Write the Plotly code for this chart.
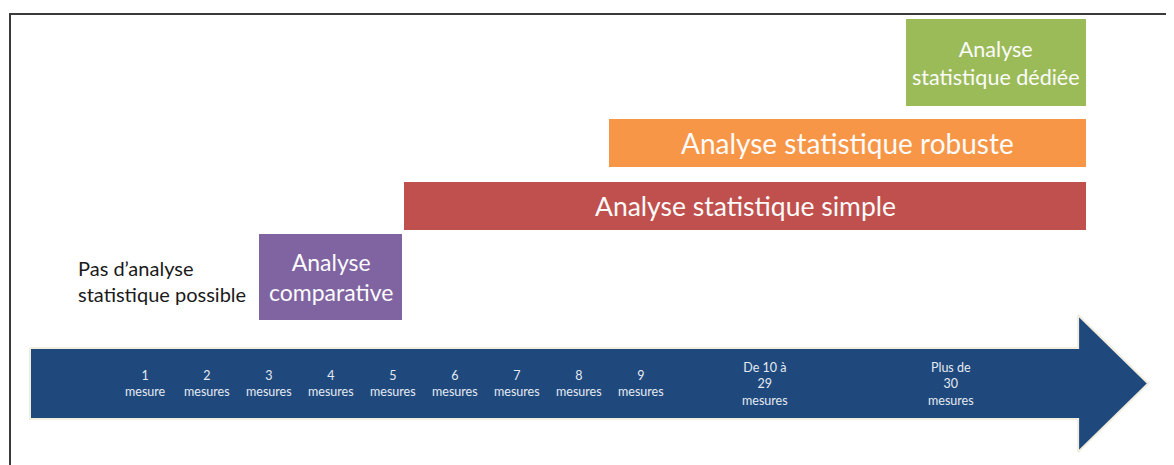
import plotly.graph_objects as go

# ---- data ----
scale_positions = [1, 2, 3, 4, 5, 6, 7, 8, 9, 11, 14]
scale_labels = ["1<br>mesure", "2<br>mesures", "3<br>mesures", "4<br>mesures",
                "5<br>mesures", "6<br>mesures", "7<br>mesures", "8<br>mesures",
                "9<br>mesures", "De 10 à<br>29<br>mesures", "Plus de<br>30<br>mesures"]

analysis_names = ["Analyse<br>comparative", "Analyse statistique simple",
                  "Analyse statistique robuste", "Analyse<br>statistique dédiée"]
analysis_start = [2.84, 5.18, 8.48, 13.27]
analysis_end = [5.15, 16.18, 16.18, 16.18]

no_analysis_text = "Pas d’analyse<br>statistique possible"

# ---- layout / style (not data) ----
W, H = 1174, 465
OFF = 8  # page body margin
row_center = [277, 206, 143, 62.5]
row_height = [86, 48, 48, 87]
box_colors = ["#8064A2", "#C0504D", "#F79646", "#9BBB59"]
box_font = [23, 26.5, 28, 21.5]
FONT = "Lato, 'Open Sans', sans-serif"

x0 = 1 - (145 - OFF) / 62
x1 = x0 + W / 62

fig = go.Figure()

# arrow
ax_left, ax_body_end, ax_tip = -0.855, 16.05, 17.18
ay_top, ay_bot, ah_top, ah_bot, ay_mid = 348, 419, 315, 452, 383.5
fig.add_trace(go.Scatter(
    x=[ax_left, ax_body_end, ax_body_end, ax_tip, ax_body_end, ax_body_end, ax_left, ax_left],
    y=[ay_top, ay_top, ah_top, ay_mid, ah_bot, ay_bot, ay_bot, ay_top],
    mode="lines", fill="toself", fillcolor="#1F497D",
    line=dict(color="#F2EEDF", width=2), hoverinfo="skip", showlegend=False))

# analysis boxes
fig.add_trace(go.Bar(
    orientation="h", y=row_center,
    x=[e - s for s, e in zip(analysis_start, analysis_end)],
    base=analysis_start, width=row_height,
    marker=dict(color=box_colors, line=dict(width=0)),
    hoverinfo="skip", showlegend=False))

annotations = []
for name, s, e, yc, fs in zip(analysis_names, analysis_start, analysis_end, row_center, box_font):
    annotations.append(dict(x=(s + e) / 2, y=yc, xref="x", yref="y", text=name,
                            showarrow=False, xanchor="center", yanchor="middle",
                            font=dict(family=FONT, size=fs, color="#FBFBFB")))

for p, lab in zip(scale_positions, scale_labels):
    annotations.append(dict(x=p, y=ay_mid, xref="x", yref="y", text=lab,
                            showarrow=False, xanchor="center", yanchor="middle",
                            font=dict(family=FONT, size=12.5, color="#E4EAF1")))

annotations.append(dict(x=(76 - OFF) / W, y=1 - (281 - OFF) / H, xref="paper", yref="paper",
                        text=no_analysis_text, showarrow=False, align="left",
                        xanchor="left", yanchor="middle",
                        font=dict(family=FONT, size=20, color="#1a1a1a")))

fig.update_layout(
    width=W, height=H, margin=dict(l=0, r=0, t=0, b=0),
    paper_bgcolor="white", plot_bgcolor="white",
    xaxis=dict(range=[x0, x1], visible=False, fixedrange=True),
    yaxis=dict(range=[H + OFF, OFF], visible=False, fixedrange=True),
    annotations=annotations, bargap=0,
    shapes=[dict(type="rect", xref="paper", yref="paper",
                 x0=(10 - OFF) / W, x1=1.02, y0=-0.02, y1=1 - (14 - OFF) / H,
                 line=dict(color="#3a3a3a", width=2), fillcolor="rgba(0,0,0,0)",
                 layer="above")],
)

fig.write_html("out.html")
